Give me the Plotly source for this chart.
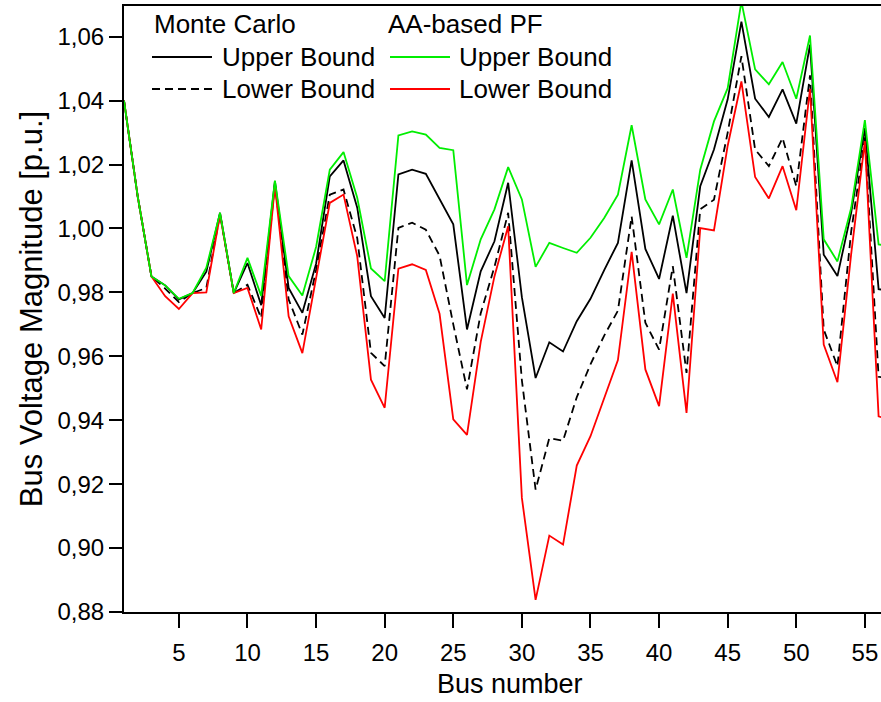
import plotly.graph_objects as go

# Bus numbers of the 57-bus test system
buses = list(range(1, 58))

# Monte Carlo bounds of the bus voltage magnitude [p.u.]
mc_upper = [1.0400, 1.0100, 0.9850, 0.9822, 0.9778, 0.9798, 0.9865, 1.0049, 0.9798, 0.9892,
            0.9760, 1.0148, 0.9814, 0.9736, 0.9890, 1.0163, 1.0213, 1.0065, 0.9788, 0.9720,
            1.0169, 1.0184, 1.0171, 1.0090, 1.0013, 0.9684, 0.9866, 0.9960, 1.0143, 0.9785,
            0.9532, 0.9644, 0.9615, 0.9710, 0.9780, 0.9870, 0.9955, 1.0213, 0.9936, 0.9842,
            1.0040, 0.9798, 1.0132, 1.0247, 1.0404, 1.0647, 1.0406, 1.0349, 1.0435, 1.0328,
            1.0575, 0.9918, 0.9851, 1.0049, 1.0314, 0.9810, 0.9805]
mc_lower = [1.0400, 1.0100, 0.9850, 0.9812, 0.9770, 0.9798, 0.9814, 1.0045, 0.9798, 0.9824,
            0.9720, 1.0140, 0.9778, 0.9668, 0.9870, 1.0106, 1.0122, 0.9970, 0.9611, 0.9569,
            1.0002, 1.0018, 0.9996, 0.9915, 0.9700, 0.9497, 0.9735, 0.9880, 1.0049, 0.9525,
            0.9183, 0.9344, 0.9336, 0.9472, 0.9575, 0.9665, 0.9743, 1.0038, 0.9705, 0.9621,
            0.9882, 0.9548, 1.0060, 1.0090, 1.0300, 1.0539, 1.0247, 1.0195, 1.0283, 1.0132,
            1.0479, 0.9684, 0.9569, 0.9990, 1.0285, 0.9536, 0.9530]

# Affine-arithmetic power flow bounds [p.u.]
aa_upper = [1.0400, 1.0100, 0.9850, 0.9822, 0.9780, 0.9798, 0.9877, 1.0049, 0.9798, 0.9908,
            0.9789, 1.0150, 0.9851, 0.9790, 0.9942, 1.0184, 1.0239, 1.0096, 0.9875, 0.9835,
            1.0291, 1.0304, 1.0294, 1.0252, 1.0245, 0.9823, 0.9966, 1.0060, 1.0192, 1.0091,
            0.9880, 0.9955, 0.9939, 0.9924, 0.9971, 1.0033, 1.0106, 1.0323, 1.0091, 1.0013,
            1.0122, 0.9908, 1.0184, 1.0335, 1.0439, 1.0710, 1.0498, 1.0451, 1.0521, 1.0406,
            1.0604, 0.9966, 0.9897, 1.0064, 1.0339, 0.9950, 0.9945]
aa_lower = [1.0400, 1.0100, 0.9850, 0.9788, 0.9748, 0.9798, 0.9800, 1.0043, 0.9798, 0.9814,
            0.9684, 1.0135, 0.9725, 0.9610, 0.9845, 1.0080, 1.0106, 0.9913, 0.9527, 0.9439,
            0.9874, 0.9888, 0.9870, 0.9733, 0.9403, 0.9354, 0.9645, 0.9850, 1.0007, 0.9157,
            0.8838, 0.9039, 0.9011, 0.9258, 0.9350, 0.9472, 0.9588, 0.9927, 0.9559, 0.9444,
            0.9796, 0.9423, 1.0001, 0.9994, 1.0259, 1.0460, 1.0161, 1.0094, 1.0195, 1.0057,
            1.0437, 0.9637, 0.9519, 0.9920, 1.0273, 0.9412, 0.9400]

x_ticks = [5, 10, 15, 20, 25, 30, 35, 40, 45, 50, 55]
y_ticks = [0.88, 0.90, 0.92, 0.94, 0.96, 0.98, 1.00, 1.02, 1.04, 1.06]

BLACK = "#000000"
GREEN = "#00ee00"
RED = "#ff0000"
DASH = "8px,5px"
LW = 1.8
FONT = "Liberation Sans, Arial, sans-serif"

W, H = 881, 702
L, R, T, B = 124, 0, 6, 90
PW, PH = W - L - R, H - T - B


def px(xp):
    return (xp - L) / PW


def py(yp):
    return (H - B - yp) / PH


fig = go.Figure()
series = [
    ("Monte Carlo – Upper Bound", mc_upper, BLACK, "solid"),
    ("Monte Carlo – Lower Bound", mc_lower, BLACK, DASH),
    ("AA-based PF – Lower Bound", aa_lower, RED, "solid"),
    ("AA-based PF – Upper Bound", aa_upper, GREEN, "solid"),
]
for name, vals, col, dash in series:
    fig.add_trace(go.Scatter(x=buses, y=vals, mode="lines", name=name,
                             line=dict(color=col, width=LW, dash=dash),
                             showlegend=False))

# Two-column legend: group headings with line samples
shapes = []
annotations = []
legend_cols = [
    (152, 212, 152, "Monte Carlo", [(BLACK, "solid"), (BLACK, DASH)], 220),
    (390, 450, 386, "AA-based PF", [(GREEN, "solid"), (RED, "solid")], 457),
]
for x0, x1, tx, title, styles, lx in legend_cols:
    annotations.append(dict(x=px(tx), y=py(24), xref="paper", yref="paper",
                            text=title, showarrow=False, xanchor="left", yanchor="middle",
                            font=dict(family=FONT, size=26, color="black")))
    for (col, dash), yy, lab in zip(styles, [57, 89], ["Upper Bound", "Lower Bound"]):
        shapes.append(dict(type="line", xref="paper", yref="paper",
                           x0=px(x0), x1=px(x1), y0=py(yy), y1=py(yy),
                           line=dict(color=col, width=LW, dash=dash)))
        annotations.append(dict(x=px(lx), y=py(yy), xref="paper", yref="paper",
                                text=lab, showarrow=False, xanchor="left", yanchor="middle",
                                font=dict(family=FONT, size=26, color="black")))

# x-axis title placed as its own text line below the tick labels
annotations.append(dict(x=px(510), y=py(684), xref="paper", yref="paper",
                        text="Bus number", showarrow=False,
                        xanchor="center", yanchor="middle",
                        font=dict(family=FONT, size=27, color="black")))

fig.update_layout(
    width=W, height=H,
    margin=dict(l=L, r=R, t=T, b=B),
    paper_bgcolor="white", plot_bgcolor="white",
    separators=",.",
    font=dict(family=FONT, color="black"),
    shapes=shapes, annotations=annotations,
    showlegend=False,
)
fig.update_xaxes(
    range=[1, 1 + PW / 13.72],
    tickvals=x_ticks, ticks="outside", ticklen=14, tickwidth=2, tickcolor="black",
    ticklabelstandoff=4,
    showline=True, linewidth=2, linecolor="black", mirror=True,
    showgrid=False, zeroline=False,
    tickfont=dict(family=FONT, size=24),
)
fig.update_yaxes(
    range=[0.88, 0.88 + PH / 3196],
    tickvals=y_ticks, tickformat=".2f", ticks="outside", ticklen=13, tickwidth=2,
    tickcolor="black",
    showline=True, linewidth=2, linecolor="black", mirror=False,
    showgrid=False, zeroline=False,
    tickfont=dict(family=FONT, size=24),
    title=dict(text="Bus Voltage Magnitude [p.u.]", font=dict(family=FONT, size=31),
               standoff=6),
)

fig.write_html("out.html")
